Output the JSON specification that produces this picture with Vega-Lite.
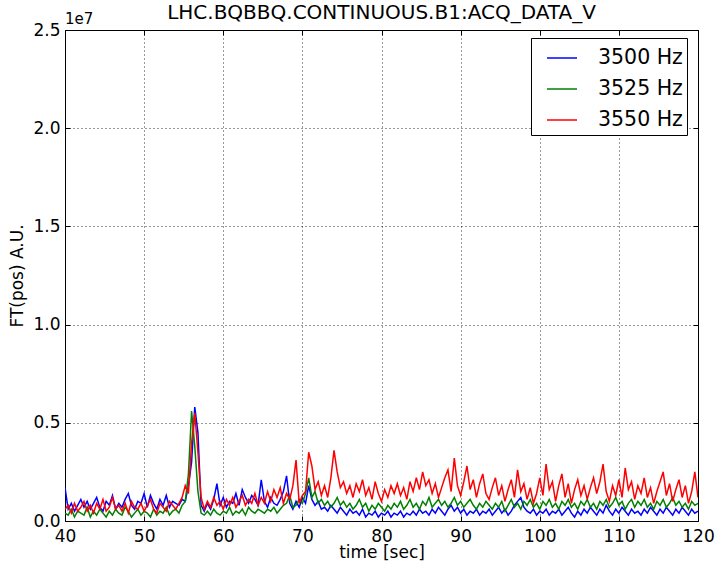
{
  "$schema": "https://vega.github.io/schema/vega-lite/v6.json",
  "width": 633,
  "height": 491,
  "autosize": "none",
  "padding": {"left": 65, "top": 30, "right": 18, "bottom": 40},
  "background": "white",
  "config": {
    "font": "DejaVu Sans",
    "view": {"stroke": "black", "strokeWidth": 1},
    "axis": {
      "domain": false,
      "grid": true,
      "gridColor": "black",
      "gridDash": [1, 3],
      "gridOpacity": 0.8,
      "tickColor": "black",
      "tickSize": -5,
      "labelColor": "black",
      "labelFontSize": 17,
      "titleColor": "black",
      "titleFontWeight": "normal"
    }
  },
  "title": {"text": "LHC.BQBBQ.CONTINUOUS.B1:ACQ_DATA_V", "fontSize": 20, "fontWeight": "normal", "color": "black", "offset": -11},
  "data": {"values": [
{"t":40.0,"a":17,"b":4,"c":6},{"t":40.4,"a":6,"b":3,"c":8},{"t":40.8,"a":9,"b":6,"c":4},{"t":41.2,"a":5,"b":2,"c":9},{"t":41.6,"a":8,"b":5,"c":5},
{"t":42.0,"a":11,"b":4,"c":7},{"t":42.4,"a":7,"b":3,"c":10},{"t":42.8,"a":10,"b":7,"c":5},{"t":43.2,"a":6,"b":2,"c":8},{"t":43.6,"a":9,"b":5,"c":4},
{"t":44.0,"a":12,"b":3,"c":9},{"t":44.4,"a":7,"b":6,"c":6},{"t":44.8,"a":5,"b":4,"c":11},{"t":45.2,"a":10,"b":2,"c":5},{"t":45.6,"a":8,"b":5,"c":7},
{"t":46.0,"a":13,"b":3,"c":12},{"t":46.4,"a":6,"b":6,"c":6},{"t":46.8,"a":9,"b":4,"c":8},{"t":47.2,"a":7,"b":3,"c":5},{"t":47.6,"a":11,"b":7,"c":9},
{"t":48.0,"a":14,"b":5,"c":4},{"t":48.4,"a":8,"b":2,"c":10},{"t":48.8,"a":6,"b":4,"c":7},{"t":49.2,"a":10,"b":6,"c":6},{"t":49.6,"a":9,"b":3,"c":9},
{"t":50.0,"a":14,"b":5,"c":5},{"t":50.4,"a":7,"b":4,"c":8},{"t":50.8,"a":13,"b":2,"c":11},{"t":51.2,"a":9,"b":6,"c":6},{"t":51.6,"a":6,"b":3,"c":4},
{"t":52.0,"a":11,"b":5,"c":9},{"t":52.4,"a":8,"b":4,"c":7},{"t":52.8,"a":13,"b":7,"c":5},{"t":53.2,"a":7,"b":3,"c":10},{"t":53.6,"a":10,"b":5,"c":8},
{"t":54.0,"a":9,"b":6,"c":6},{"t":54.4,"a":8,"b":4,"c":9},{"t":54.8,"a":11,"b":8,"c":12},{"t":55.2,"a":10,"b":10,"c":18},{"t":55.6,"a":18,"b":24,"c":14},
{"t":56.0,"a":30,"b":56,"c":40},{"t":56.4,"a":58,"b":38,"c":55},{"t":56.8,"a":45,"b":15,"c":35},{"t":57.2,"a":8,"b":4,"c":12},{"t":57.6,"a":5,"b":3,"c":6},
{"t":58.0,"a":9,"b":5,"c":10},{"t":58.4,"a":6,"b":3,"c":7},{"t":58.8,"a":11,"b":6,"c":12},{"t":59.2,"a":19,"b":4,"c":8},{"t":59.6,"a":8,"b":3,"c":10},
{"t":60.0,"a":12,"b":5,"c":6},{"t":60.4,"a":7,"b":4,"c":11},{"t":60.8,"a":10,"b":7,"c":8},{"t":61.2,"a":9,"b":3,"c":12},{"t":61.6,"a":14,"b":5,"c":7},
{"t":62.0,"a":8,"b":4,"c":10},{"t":62.4,"a":16,"b":6,"c":13},{"t":62.8,"a":12,"b":3,"c":8},{"t":63.2,"a":9,"b":7,"c":11},{"t":63.6,"a":13,"b":5,"c":9},
{"t":64.0,"a":11,"b":4,"c":14},{"t":64.4,"a":8,"b":6,"c":8},{"t":64.8,"a":21,"b":5,"c":12},{"t":65.2,"a":10,"b":4,"c":9},{"t":65.6,"a":7,"b":6,"c":15},
{"t":66.0,"a":12,"b":5,"c":10},{"t":66.4,"a":9,"b":7,"c":16},{"t":66.8,"a":8,"b":4,"c":12},{"t":67.2,"a":11,"b":6,"c":17},{"t":67.6,"a":15,"b":8,"c":9},
{"t":68.0,"a":23,"b":9,"c":14},{"t":68.4,"a":9,"b":13,"c":11},{"t":68.8,"a":6,"b":7,"c":18},{"t":69.2,"a":10,"b":8,"c":31},{"t":69.6,"a":7,"b":11,"c":9},
{"t":70.0,"a":12,"b":9,"c":13},{"t":70.4,"a":9,"b":14,"c":15},{"t":70.8,"a":18,"b":22,"c":35},{"t":71.2,"a":11,"b":12,"c":28},{"t":71.6,"a":8,"b":15,"c":16},
{"t":72.0,"a":10,"b":9,"c":20},{"t":72.4,"a":6,"b":11,"c":13},{"t":72.8,"a":7,"b":8,"c":18},{"t":73.2,"a":5,"b":10,"c":12},{"t":73.6,"a":8,"b":7,"c":22},
{"t":74.0,"a":6,"b":9,"c":36},{"t":74.4,"a":4,"b":12,"c":25},{"t":74.8,"a":7,"b":8,"c":17},{"t":75.2,"a":5,"b":10,"c":20},{"t":75.6,"a":3,"b":7,"c":14},
{"t":76.0,"a":6,"b":9,"c":18},{"t":76.4,"a":4,"b":6,"c":12},{"t":76.8,"a":5,"b":8,"c":19},{"t":77.2,"a":3,"b":11,"c":15},{"t":77.6,"a":6,"b":7,"c":21},
{"t":78.0,"a":2,"b":9,"c":13},{"t":78.4,"a":4,"b":5,"c":17},{"t":78.8,"a":3,"b":8,"c":11},{"t":79.2,"a":5,"b":6,"c":20},{"t":79.6,"a":2,"b":9,"c":14},
{"t":80.0,"a":4,"b":7,"c":10},{"t":80.4,"a":3,"b":5,"c":16},{"t":80.8,"a":5,"b":8,"c":12},{"t":81.2,"a":2,"b":6,"c":18},{"t":81.6,"a":4,"b":9,"c":14},
{"t":82.0,"a":3,"b":7,"c":19},{"t":82.4,"a":5,"b":10,"c":13},{"t":82.8,"a":2,"b":6,"c":17},{"t":83.2,"a":4,"b":8,"c":11},{"t":83.6,"a":3,"b":11,"c":20},
{"t":84.0,"a":5,"b":7,"c":15},{"t":84.4,"a":3,"b":9,"c":22},{"t":84.8,"a":6,"b":6,"c":16},{"t":85.2,"a":4,"b":10,"c":25},{"t":85.6,"a":5,"b":8,"c":18},
{"t":86.0,"a":3,"b":12,"c":21},{"t":86.4,"a":6,"b":7,"c":14},{"t":86.8,"a":4,"b":9,"c":19},{"t":87.2,"a":7,"b":11,"c":12},{"t":87.6,"a":5,"b":8,"c":17},
{"t":88.0,"a":3,"b":10,"c":22},{"t":88.4,"a":6,"b":7,"c":26},{"t":88.8,"a":8,"b":9,"c":15},{"t":89.2,"a":5,"b":12,"c":32},{"t":89.6,"a":7,"b":8,"c":18},
{"t":90.0,"a":4,"b":10,"c":13},{"t":90.4,"a":6,"b":7,"c":20},{"t":90.8,"a":3,"b":9,"c":28},{"t":91.2,"a":5,"b":11,"c":16},{"t":91.6,"a":4,"b":8,"c":21},
{"t":92.0,"a":6,"b":6,"c":12},{"t":92.4,"a":3,"b":9,"c":19},{"t":92.8,"a":5,"b":7,"c":24},{"t":93.2,"a":4,"b":10,"c":14},{"t":93.6,"a":6,"b":8,"c":11},
{"t":94.0,"a":3,"b":6,"c":17},{"t":94.4,"a":5,"b":9,"c":22},{"t":94.8,"a":7,"b":7,"c":13},{"t":95.2,"a":4,"b":10,"c":18},{"t":95.6,"a":6,"b":5,"c":10},
{"t":96.0,"a":3,"b":8,"c":16},{"t":96.4,"a":5,"b":11,"c":21},{"t":96.8,"a":8,"b":7,"c":12},{"t":97.2,"a":10,"b":9,"c":26},{"t":97.6,"a":12,"b":6,"c":15},
{"t":98.0,"a":7,"b":10,"c":19},{"t":98.4,"a":5,"b":8,"c":11},{"t":98.8,"a":4,"b":11,"c":17},{"t":99.2,"a":6,"b":7,"c":9},{"t":99.6,"a":3,"b":9,"c":14},
{"t":100.0,"a":5,"b":6,"c":22},{"t":100.4,"a":4,"b":10,"c":13},{"t":100.8,"a":6,"b":8,"c":29},{"t":101.2,"a":3,"b":11,"c":16},{"t":101.6,"a":5,"b":7,"c":20},
{"t":102.0,"a":4,"b":9,"c":10},{"t":102.4,"a":6,"b":6,"c":18},{"t":102.8,"a":3,"b":10,"c":24},{"t":103.2,"a":5,"b":8,"c":12},{"t":103.6,"a":7,"b":11,"c":19},
{"t":104.0,"a":4,"b":7,"c":9},{"t":104.4,"a":2,"b":9,"c":16},{"t":104.8,"a":5,"b":6,"c":21},{"t":105.2,"a":3,"b":10,"c":13},{"t":105.6,"a":6,"b":8,"c":18},
{"t":106.0,"a":4,"b":11,"c":11},{"t":106.4,"a":7,"b":7,"c":17},{"t":106.8,"a":5,"b":9,"c":22},{"t":107.2,"a":3,"b":6,"c":14},{"t":107.6,"a":6,"b":10,"c":20},
{"t":108.0,"a":4,"b":8,"c":29},{"t":108.4,"a":8,"b":11,"c":15},{"t":108.8,"a":5,"b":7,"c":10},{"t":109.2,"a":3,"b":9,"c":18},{"t":109.6,"a":6,"b":12,"c":13},
{"t":110.0,"a":4,"b":8,"c":21},{"t":110.4,"a":7,"b":10,"c":12},{"t":110.8,"a":5,"b":6,"c":27},{"t":111.2,"a":3,"b":9,"c":16},{"t":111.6,"a":6,"b":11,"c":20},
{"t":112.0,"a":4,"b":7,"c":11},{"t":112.4,"a":5,"b":10,"c":18},{"t":112.8,"a":3,"b":8,"c":14},{"t":113.2,"a":6,"b":11,"c":22},{"t":113.6,"a":4,"b":7,"c":12},
{"t":114.0,"a":7,"b":9,"c":17},{"t":114.4,"a":5,"b":6,"c":9},{"t":114.8,"a":3,"b":10,"c":15},{"t":115.2,"a":6,"b":8,"c":20},{"t":115.6,"a":4,"b":11,"c":25},
{"t":116.0,"a":7,"b":7,"c":13},{"t":116.4,"a":5,"b":9,"c":19},{"t":116.8,"a":3,"b":12,"c":10},{"t":117.2,"a":6,"b":8,"c":16},{"t":117.6,"a":4,"b":10,"c":21},
{"t":118.0,"a":7,"b":7,"c":12},{"t":118.4,"a":5,"b":9,"c":18},{"t":118.8,"a":3,"b":6,"c":9},{"t":119.2,"a":6,"b":10,"c":15},{"t":119.6,"a":4,"b":8,"c":25},
{"t":120.0,"a":5,"b":9,"c":12}
  ]},
  "layer": [
    {
      "transform": [{"fold": ["a", "b", "c"], "as": ["series", "v"]}],
      "mark": {"type": "line", "strokeWidth": 1.5, "clip": true},
      "encoding": {
        "x": {"field": "t", "type": "quantitative",
              "scale": {"domain": [40, 120], "nice": false, "zero": false},
              "axis": {"values": [40, 50, 60, 70, 80, 90, 100, 110, 120], "title": "time [sec]", "titleFontSize": 17, "titlePadding": 0, "labelPadding": 12, "labelFlush": false}},
        "y": {"field": "v", "type": "quantitative",
              "scale": {"domain": [0, 250], "nice": false},
              "axis": {"values": [0, 50, 100, 150, 200, 250], "labelExpr": "format(datum.value / 100, '.1f')", "title": "FT(pos) A.U.", "titleFontSize": 17, "titlePadding": 6, "labelPadding": 10, "labelFlush": false}},
        "color": {"field": "series", "type": "nominal",
                  "scale": {"domain": ["a", "b", "c"], "range": ["#0000ff", "#008000", "#ff0000"]},
                  "legend": {"orient": "none", "legendX": 466, "legendY": 8, "title": null,
                             "labelExpr": "datum.label == 'a' ? '3500 Hz' : datum.label == 'b' ? '3525 Hz' : '3550 Hz'",
                             "symbolType": "stroke", "symbolSize": 900, "symbolStrokeWidth": 1.5, "symbolOffset": 11,
                             "labelFontSize": 20.5, "labelOffset": 20, "labelColor": "black",
                             "padding": 4, "rowPadding": 4,
                             "strokeColor": "black", "fillColor": "white", "cornerRadius": 0}}
      }
    },
    {
      "transform": [{"fold": ["a", "b", "c"], "as": ["series", "v"]}],
      "mark": {"type": "line", "opacity": 0},
      "encoding": {
        "x": {"field": "t", "type": "quantitative", "axis": {"values": [40, 50, 60, 70, 80, 90, 100, 110, 120], "labels": false, "title": null, "grid": false}},
        "y": {"field": "v", "type": "quantitative", "axis": {"values": [0, 50, 100, 150, 200, 250], "labels": false, "title": null, "grid": false}}
      }
    },
    {
      "data": {"values": [{"t": 40, "v": 250, "label": "1e7"}]},
      "mark": {"type": "text", "align": "left", "baseline": "bottom", "fontSize": 15, "dy": -3, "color": "black"},
      "encoding": {
        "x": {"field": "t", "type": "quantitative", "axis": null},
        "y": {"field": "v", "type": "quantitative", "axis": null},
        "text": {"field": "label"}
      }
    }
  ],
  "resolve": {"axis": {"x": "independent", "y": "independent"}}
}
